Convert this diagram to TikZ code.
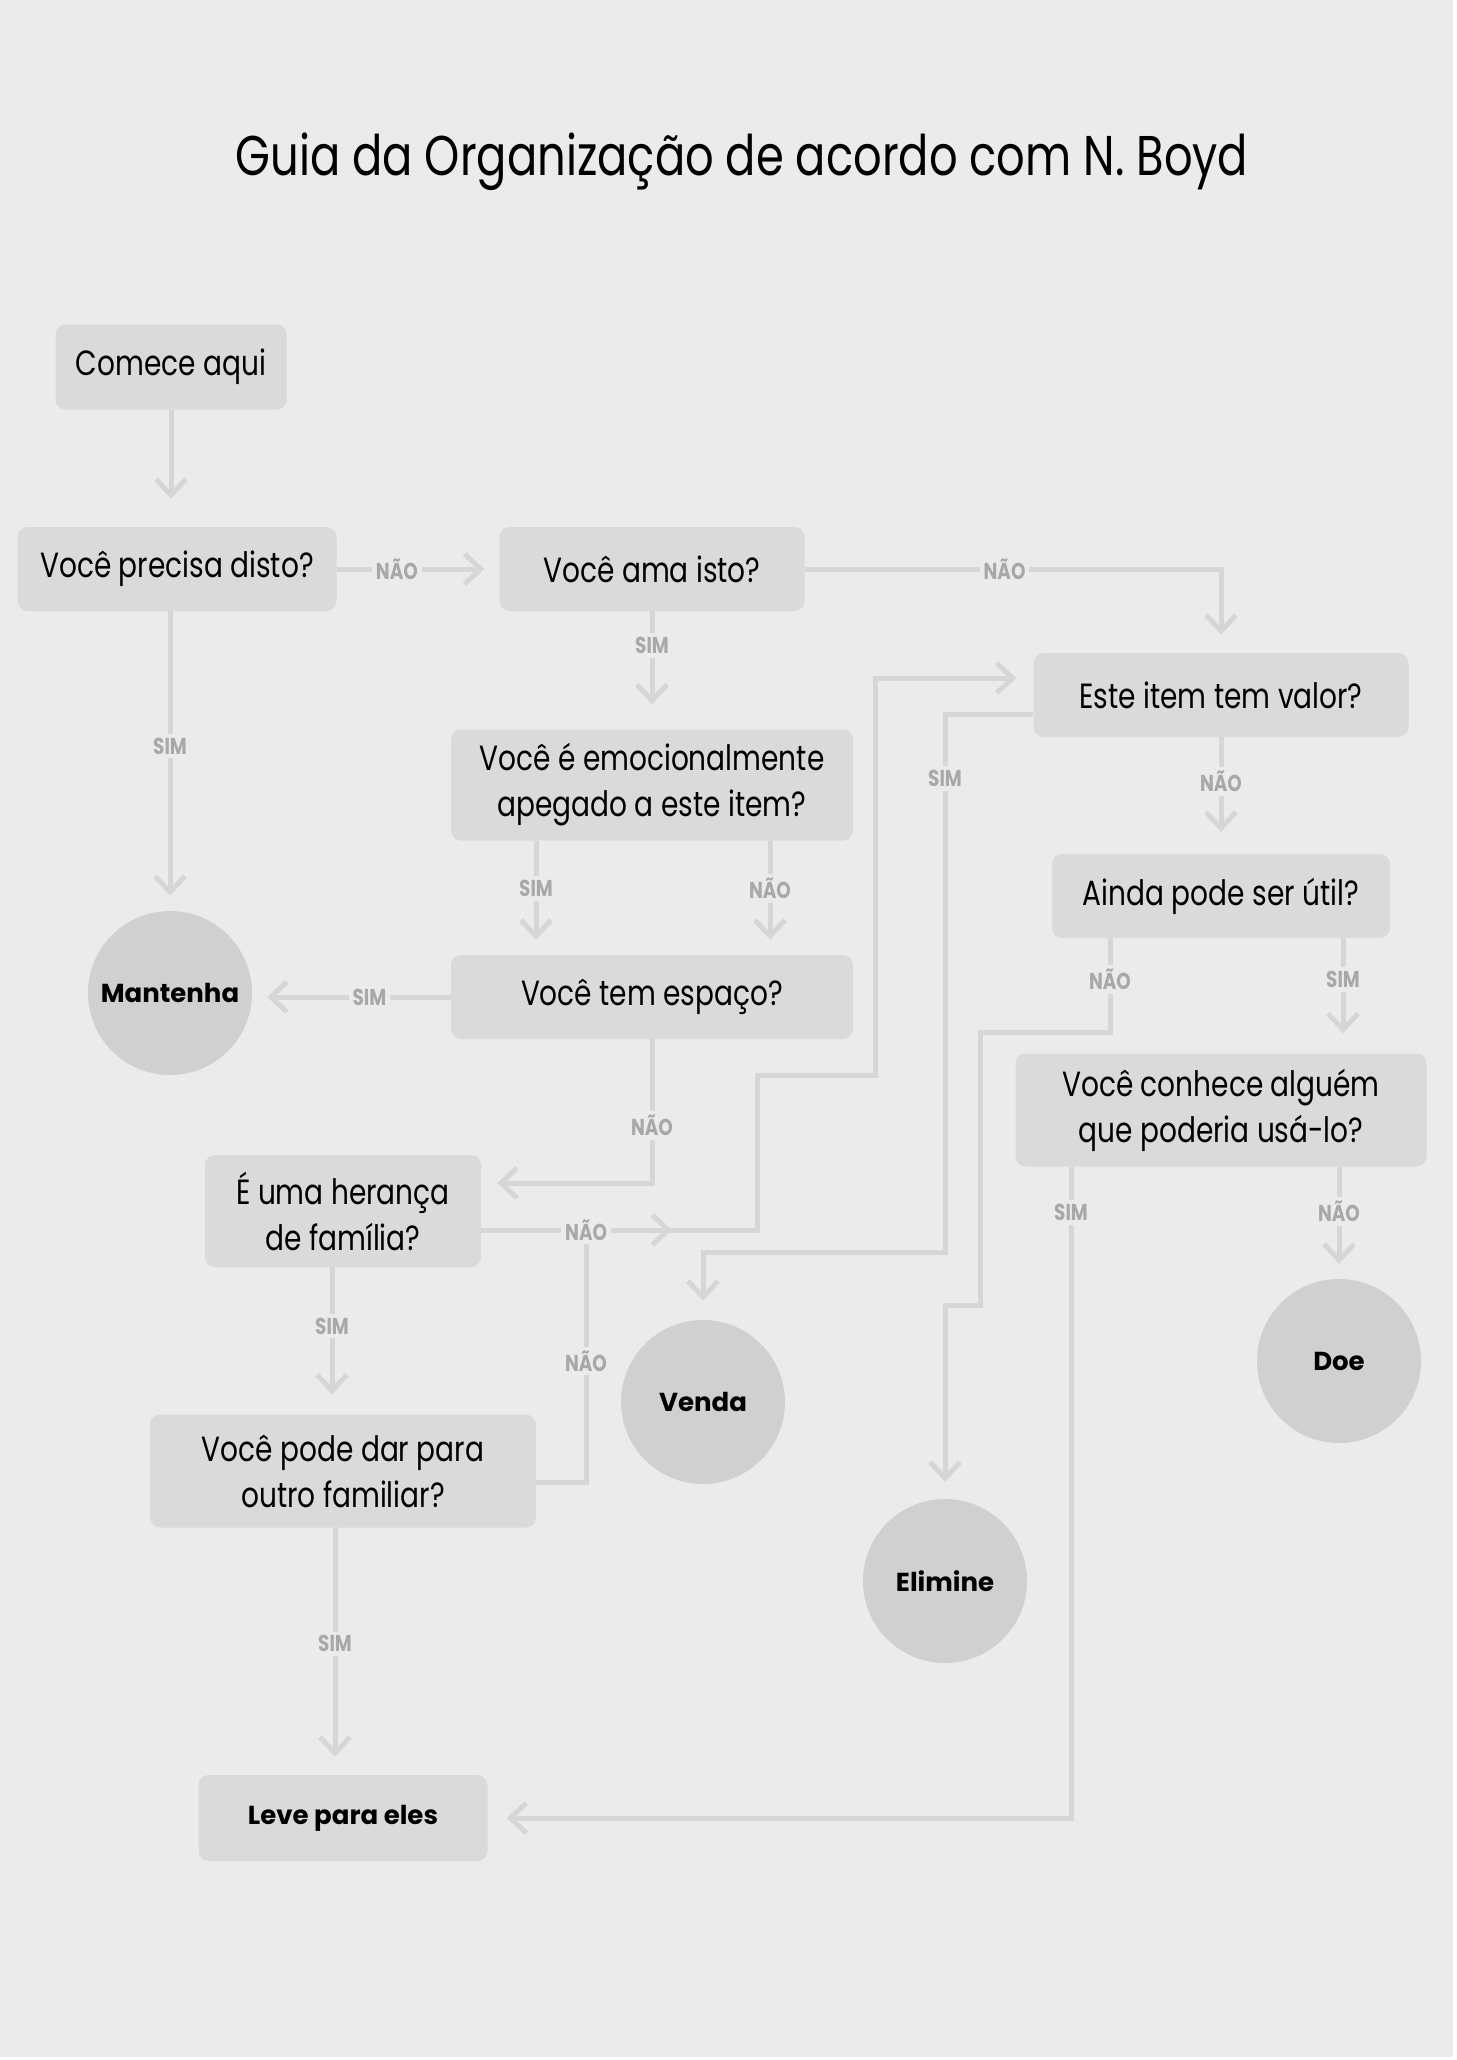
\documentclass[tikz,border=0pt]{standalone}
\usepackage{fontspec}
\setmainfont{Poppins}[FakeStretch=0.80]
\newfontfamily\endfont{Poppins}
\usepackage{tikz}
\usetikzlibrary{arrows.meta,positioning,calc}

\definecolor{bg}{HTML}{EBEBEB}
\definecolor{boxc}{HTML}{DADADA}
\definecolor{circc}{HTML}{D0D0D0}
\definecolor{wirec}{HTML}{D6D6D6}
\definecolor{lblc}{HTML}{A8A8A8}

\begin{document}
\begin{tikzpicture}[
  x=1pt, y=-1pt, >={Straight Barb[length=16pt,width=30pt]},
  box/.style={fill=boxc, rounded corners=10pt, align=center, inner sep=0pt, font=\fontsize{35}{46}\selectfont},
  endbox/.style={box, font=\endfont\bfseries\fontsize{26}{30}\selectfont},
  endc/.style={circle, fill=circc, minimum size=164pt, inner sep=0pt, font=\endfont\bfseries\fontsize{26}{30}\selectfont},
  wire/.style={draw=wirec, line width=5pt},
  flow/.style={wire, ->},
  lbl/.style={fill=bg, text=lblc, inner sep=4pt, font=\bfseries\fontsize{23}{23}\selectfont},
]
\fill[white] (0,0) rectangle (1456,2060);
\fill[bg] (0,0) rectangle (1453,2057);
\useasboundingbox (0,0) rectangle (1456,2060);

\node[anchor=base, font=\fontsize{56}{66}\selectfont] (title) at (742,176) {Guia da Organização de acordo com N. Boyd};

% ---------------- left column ----------------
\node[box, minimum width=231pt, minimum height=85pt] (start) at (171,367) {Comece aqui};
\node[box, minimum width=319pt, minimum height=84pt] (need) at (177,569) {Você precisa disto?};
\node[box, minimum width=305pt, minimum height=84pt] (love) at (652,569) {Você ama isto?};
\node[box, minimum width=402pt, minimum height=111pt] (attached) at (652,785) {Você é emocionalmente\\apegado a este item?};
\node[box, minimum width=402pt, minimum height=84pt] (space) at (652,997) {Você tem espaço?};
\node[box, minimum width=276pt, minimum height=112pt] (heir) at (343,1211) {É uma herança\\de família?};
\node[box, minimum width=386pt, minimum height=113pt] (family) at (343,1471) {Você pode dar para\\outro familiar?};
\node[endbox, minimum width=289pt, minimum height=86pt] (take) at (343,1818) {Leve para eles};

% ---------------- right column ----------------
\node[box, minimum width=375pt, minimum height=84pt] (value) at (1221,695) {Este item tem valor?};
\node[box, minimum width=338pt, minimum height=84pt] (useful) at (1221,896) {Ainda pode ser útil?};
\node[box, minimum width=411pt, minimum height=113pt] (someone) at (1221,1110) {Você conhece alguém\\que poderia usá-lo?};

% ---------------- outcomes ----------------
\node[endc] (keep) at (170,993) {Mantenha};
\node[endc] (sell) at (703,1402) {Venda};
\node[endc] (toss) at (945,1581) {Elimine};
\node[endc] (give) at (1339,1361) {Doe};

\coordinate (hbend) at (757,1075);
\coordinate (vbend) at (875,678);
\coordinate (hjoin) at (586,1230);
\coordinate (hmid) at (672,1230);
\coordinate (sbend) at (945,1252);
\coordinate (ubend1) at (980,1032);
\coordinate (ubend2) at (945,1305);

% ---------------- connectors ----------------
\draw[flow, shorten >=28pt] (start.south) -- (start.south |- need.north);
\draw[flow, shorten >=15pt] (need) -- node[lbl, pos=0.37] (n1) {NÃO} (love);
\draw[flow, shorten >=18pt] (love) -| node[lbl, pos=0.24] (n2) {NÃO} (value);
\draw[flow, shorten >=25pt] (love) -- node[lbl, pos=0.29] (s1) {SIM} (attached);
\draw[flow, shorten >=15pt] ([xshift=-116pt]attached.south) -- node[lbl, pos=0.42] (s2) {SIM} ([xshift=-116pt]space.north);
\draw[flow, shorten >=15pt] ([xshift=118pt]attached.south) -- node[lbl, pos=0.42] (n3) {NÃO} ([xshift=118pt]space.north);
\draw[flow, shorten >=15pt] (space.west) -- node[lbl, pos=0.41] (s3) {SIM} (space.west -| keep.east);
\draw[flow, shorten >=15pt] (need.south -| keep.north) -- node[lbl, pos=0.45] (s4) {SIM} (keep.north);
\draw[flow, shorten >=16pt] (space.south) |- node[lbl, pos=0.3] (n4) {NÃO} ([yshift=28pt]heir.east);

\draw[flow, shorten >=17pt] ([yshift=-19pt]heir.east) -| (hbend) -| (vbend) -- (vbend -| value.west);
\draw[wire] ([yshift=-11pt]family.east) -| node[lbl, pos=0.74] (n6) {NÃO} (hjoin);
\draw[flow] ([yshift=-19pt]heir.east) -- node[lbl, pos=0.55] (n5) {NÃO} (hmid);
\draw[flow, shorten >=20pt] ([xshift=-11pt]heir.south) -- node[lbl, pos=0.4] (s5) {SIM} ([xshift=-11pt]heir.south |- family.north);
\draw[flow, shorten >=18pt] ([xshift=-8pt]family.south) -- node[lbl, pos=0.47] (s6) {SIM} ([xshift=-8pt]family.south |- take.north);

\draw[flow, shorten >=22pt] (value) -- node[lbl, pos=0.38] (n7) {NÃO} (useful);
\draw[flow, shorten >=19pt] ([yshift=-19pt]value.west) -| node[lbl, pos=0.56] (s7) {SIM} (sbend) -| (sell.north);
\draw[flow, shorten >=17pt] ([xshift=-111pt]useful.south) |- node[lbl, pos=0.22] (n8) {NÃO} (ubend1) |- (ubend2) -- (toss.north);
\draw[flow, shorten >=20pt] ([xshift=122pt]useful.south) -- node[lbl, pos=0.36] (s8) {SIM} ([xshift=122pt]useful.south |- someone.north);
\draw[flow, shorten >=19pt] ([xshift=-150pt]someone.south) |- node[lbl, pos=0.035] (s9) {SIM} (take.east);
\draw[flow, shorten >=15pt] ([xshift=118pt]someone.south) -- node[lbl, pos=0.4] (n9) {NÃO} ([xshift=118pt]someone.south |- give.north);
\end{tikzpicture}
\end{document}
